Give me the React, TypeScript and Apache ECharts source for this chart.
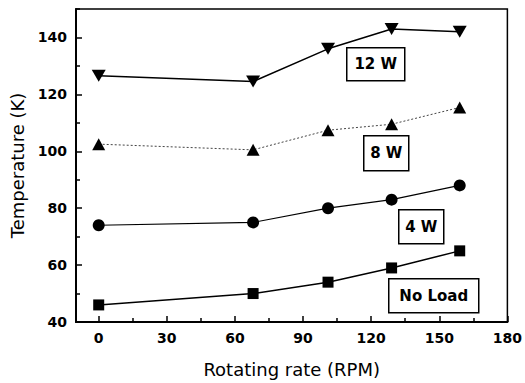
import React, { useEffect, useRef } from "react";
import * as echarts from "echarts";

const rpm = [0, 68, 101, 129, 159];
const noLoad = [46, 50, 54, 59, 65];
const w4 = [74, 75, 80, 83, 88];
const w8 = [102.5, 100.5, 107.4, 109.5, 115.4];
const w12 = [126.5, 124.5, 136, 143, 142];
const xLabels = [0, 30, 60, 90, 120, 150, 180];
const xMinor = [15, 45, 75, 105, 135, 165];
const yLabels = [40, 60, 80, 100, 120, 140];
const yMinor = [50, 70, 90, 110, 130, 150];
const boxLabels = ["12 W", "8 W", "4 W", "No Load"];

const FONT = "DejaVu Sans";

function pairs(ys: number[]) {
  return rpm.map((x, i) => [x, ys[i]]);
}

export default function App() {
  const ref = useRef<HTMLDivElement>(null);
  useEffect(() => {
    if (!ref.current) return;
    const chart = echarts.init(ref.current, undefined, { renderer: "svg" });
    const boxes = [
      { x: 346, y: 47, w: 58, h: 33 },
      { x: 363, y: 135, w: 45, h: 35 },
      { x: 398, y: 209, w: 45, h: 34 },
      { x: 388, y: 278, w: 90, h: 34 },
    ];
    const graphics = boxLabels.map((t, i) => ({
      type: "group",
      left: boxes[i].x,
      top: boxes[i].y,
      children: [
        {
          type: "rect",
          shape: { x: 0, y: 0, width: boxes[i].w, height: boxes[i].h },
          style: { fill: "#fff", stroke: "#000", lineWidth: 1.5 },
        },
        {
          type: "text",
          x: boxes[i].w / 2,
          y: boxes[i].h / 2,
          style: {
            text: t,
            fill: "#000",
            font: `bold 15px "${FONT}"`,
            align: "center",
            verticalAlign: "middle",
          },
        },
      ],
    }));
    const baseX = {
      type: "value",
      min: -10,
      max: 180,
      splitLine: { show: false },
    };
    const baseY = {
      type: "value",
      min: 40,
      max: 150,
      splitLine: { show: false },
    };
    chart.setOption({
      animation: false,
      backgroundColor: "#fff",
      grid: {
        left: 76,
        right: 17,
        top: 9,
        bottom: 60,
        show: true,
        borderColor: "#000",
        borderWidth: 1.5,
        backgroundColor: "transparent",
      },
      xAxis: [
        {
          ...baseX,
          name: "Rotating rate (RPM)",
          nameLocation: "middle",
          nameGap: 38,
          nameTextStyle: { fontFamily: FONT, fontSize: 18, color: "#000" },
          axisLine: { show: true, onZero: false, lineStyle: { color: "#000", width: 2 } },
          axisTick: {
            show: true,
            inside: true,
            length: 6,
            customValues: xLabels,
            lineStyle: { color: "#000", width: 1.5 },
          },
          axisLabel: {
            customValues: xLabels,
            margin: 9,
            fontFamily: FONT,
            fontSize: 14,
            fontWeight: "bold",
            color: "#000",
          },
        },
        {
          ...baseX,
          position: "bottom",
          axisLine: { show: false, onZero: false },
          axisTick: {
            show: true,
            inside: true,
            length: 4,
            customValues: xMinor,
            lineStyle: { color: "#000", width: 1.5 },
          },
          axisLabel: { show: false },
        },
      ],
      yAxis: [
        {
          ...baseY,
          interval: 20,
          name: "Temperature (K)",
          nameLocation: "middle",
          nameGap: 50,
          nameTextStyle: { fontFamily: FONT, fontSize: 18, color: "#000" },
          axisLine: { show: true, onZero: false, lineStyle: { color: "#000", width: 2 } },
          axisTick: {
            show: true,
            inside: true,
            length: 6,
            customValues: yLabels,
            lineStyle: { color: "#000", width: 1.5 },
          },
          axisLabel: {
            customValues: yLabels,
            margin: 9,
            fontFamily: FONT,
            fontSize: 14,
            fontWeight: "bold",
            color: "#000",
          },
        },
        {
          ...baseY,
          position: "left",
          axisLine: { show: false, onZero: false },
          axisTick: {
            show: true,
            inside: true,
            length: 4,
            customValues: yMinor,
            lineStyle: { color: "#000", width: 1.5 },
          },
          axisLabel: { show: false },
        },
      ],
      series: [
        {
          name: "No Load",
          type: "line",
          data: pairs(noLoad),
          symbol: "rect",
          symbolSize: 11,
          itemStyle: { color: "#000" },
          lineStyle: { color: "#000", width: 1.5 },
        },
        {
          name: "4 W",
          type: "line",
          data: pairs(w4),
          symbol: "circle",
          symbolSize: 12,
          itemStyle: { color: "#000" },
          lineStyle: { color: "#000", width: 1.2 },
        },
        {
          name: "8 W",
          type: "line",
          data: pairs(w8),
          symbol: "triangle",
          symbolSize: [13, 12],
          itemStyle: { color: "#000" },
          lineStyle: { color: "#444", width: 1, type: [2, 2] },
        },
        {
          name: "12 W",
          type: "line",
          data: pairs(w12),
          symbol: "triangle",
          symbolRotate: 180,
          symbolSize: [14, 12],
          itemStyle: { color: "#000" },
          lineStyle: { color: "#000", width: 1.5 },
        },
      ],
      graphic: graphics,
    });
    return () => chart.dispose();
  }, []);
  return (
    <div
      ref={ref}
      style={{ position: "fixed", left: 0, top: 0, width: 525, height: 383, background: "#fff" }}
    />
  );
}
